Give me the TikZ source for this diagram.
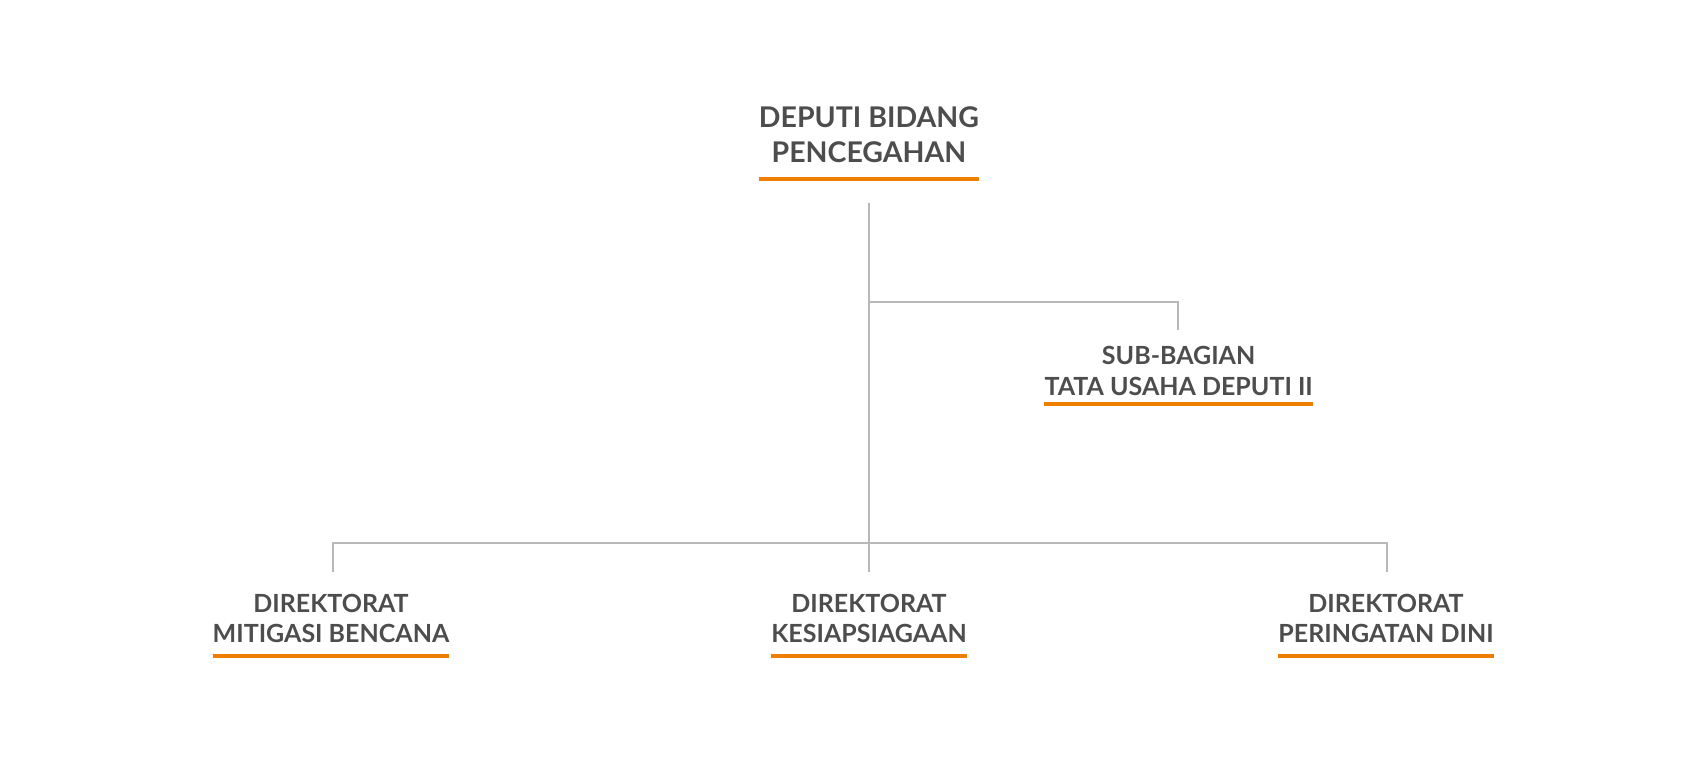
\documentclass[tikz,border=0pt]{standalone}
\usepackage{fontspec}
\setmainfont{Lato}[UprightFont=* Bold]
\definecolor{txt}{HTML}{4D4D4D}
\definecolor{conncol}{HTML}{B8B8B8}
\definecolor{orng}{HTML}{EE7F00}
\tikzset{
  title/.style={inner sep=0pt, anchor=north, align=center, text=txt, font=\fontsize{28.5}{35}\selectfont},
  unit/.style={inner sep=0pt, anchor=north, align=center, text=txt, font=\fontsize{25}{30.5}\selectfont},
  conn/.style={draw=conncol, line width=1.5pt},
  uline/.style={draw=orng, line width=4pt}
}
\begin{document}
\begin{tikzpicture}[x=1pt,y=1pt]
\useasboundingbox[fill=white] (0,0) rectangle (1708,-765);
% nodes
\node[title] (top) at (869,-106.7) {DEPUTI BIDANG\\PENCEGAHAN};
\node[unit] (sub) at (1178.6,-346.4) {SUB-BAGIAN\\TATA USAHA DEPUTI II};
\node[unit] (mit) at (331,-593.7) {DIREKTORAT\\MITIGASI BENCANA};
\node[unit] (kes) at (869,-593.7) {DIREKTORAT\\KESIAPSIAGAAN};
\node[unit] (per) at (1386,-593.7) {DIREKTORAT\\PERINGATAN DINI};
% underlines
\draw[uline] (top.south west |- 0,-178.6) -- (top.south east |- 0,-178.6);
\draw[uline] (sub.south west |- 0,-404.1) -- (sub.south east |- 0,-404.1);
\foreach \n in {mit,kes,per}
  \draw[uline] (\n.south west |- 0,-655.8) -- (\n.south east |- 0,-655.8);
% connector coordinates
\coordinate (trunkT) at (869,-203);
\coordinate (trunkB) at (869,-572);
\coordinate (subJ) at (869,-302);
\coordinate (subE) at (1178,-330);
\coordinate (busL) at (333,-543);
\coordinate (busR) at (1387,-543);
\coordinate (mitE) at (333,-572);
\coordinate (perE) at (1387,-572);
% connectors
\draw[conn] (trunkT) -- (trunkB);
\draw[conn] (subJ) -| (subE);
\draw[conn] (mitE) |- (busR) -- (perE);
\end{tikzpicture}
\end{document}
